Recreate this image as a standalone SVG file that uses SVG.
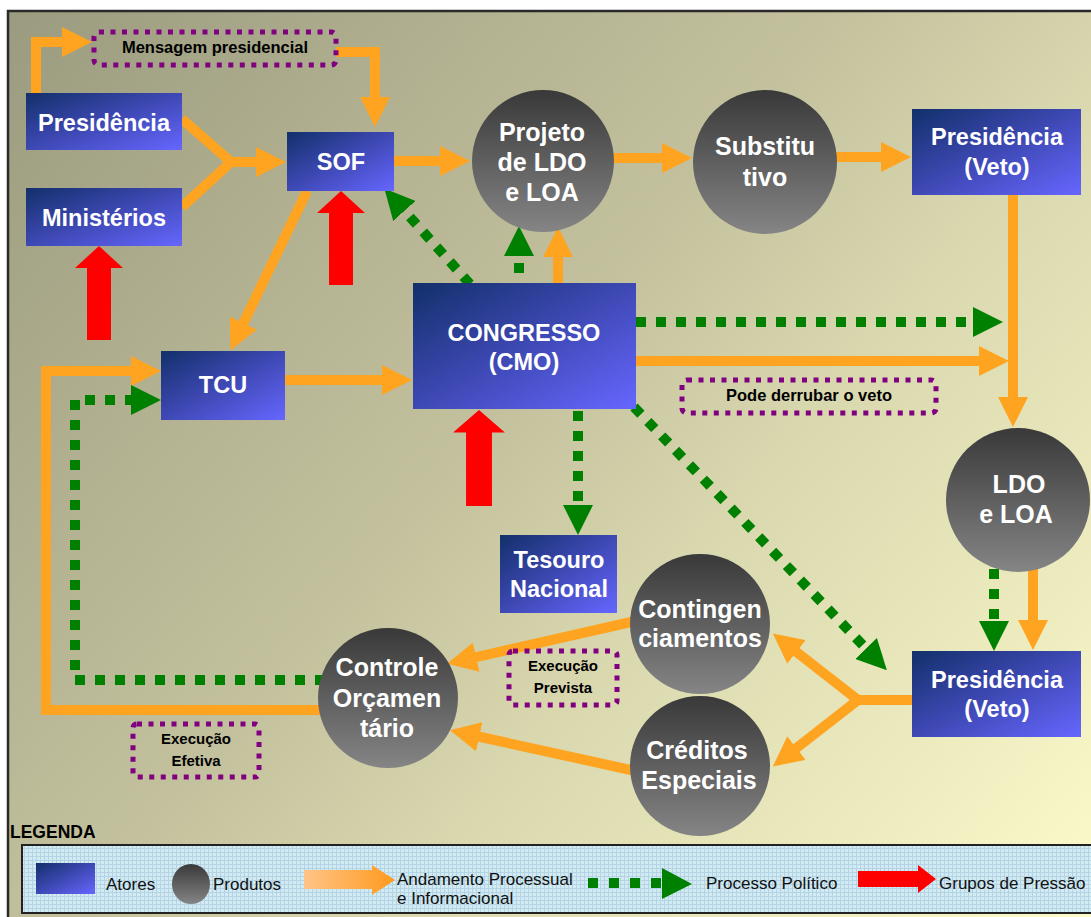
<svg xmlns="http://www.w3.org/2000/svg" width="1091" height="917" viewBox="0 0 1091 917">
<defs>
<linearGradient id="bg" gradientUnits="userSpaceOnUse" x1="0" y1="0" x2="1091" y2="917">
<stop offset="0" stop-color="#9a9a7f"/>
<stop offset="0.45" stop-color="#c3c19d"/>
<stop offset="0.62" stop-color="#d9d7ae"/>
<stop offset="1" stop-color="#fcfbcb"/>
</linearGradient>
<linearGradient id="blue" x1="0" y1="0" x2="1" y2="1">
<stop offset="0" stop-color="#12306a"/>
<stop offset="0.45" stop-color="#3a46ad"/>
<stop offset="1" stop-color="#6666ff"/>
</linearGradient>
<linearGradient id="gray" x1="0" y1="0" x2="0" y2="1">
<stop offset="0" stop-color="#393939"/>
<stop offset="1" stop-color="#858585"/>
</linearGradient>
<linearGradient id="legOrange" x1="0" y1="0" x2="1" y2="0">
<stop offset="0" stop-color="#ffc488"/>
<stop offset="1" stop-color="#ff9a1c"/>
</linearGradient>
<pattern id="grid" width="4" height="4" patternUnits="userSpaceOnUse">
<rect width="4" height="4" fill="#d2eaf2"/>
<path d="M0,0.5H4M0.5,0V4" stroke="#b4d4e6" stroke-width="1"/>
</pattern>
<marker id="ah-o" markerUnits="userSpaceOnUse" markerWidth="30" markerHeight="30" viewBox="0 0 30 30" refX="1" refY="15" orient="auto">
<path d="M0,0L30,15L0,30Z" fill="#ffa420"/>
</marker>
<marker id="ah-g" markerUnits="userSpaceOnUse" markerWidth="30" markerHeight="30" viewBox="0 0 30 30" refX="0" refY="15" orient="auto">
<path d="M0,0L30,15L0,30Z" fill="#008000"/>
</marker>
<path id="red-arrow" d="M0,0L24,22L12,22L12,94L-12,94L-12,22L-24,22Z" fill="#ff0000"/>
<style>
.o{fill:none;stroke:#ffa420;stroke-width:10;marker-end:url(#ah-o)}
.on{fill:none;stroke:#ffa420;stroke-width:10}
.g{fill:none;stroke:#008000;stroke-width:10;stroke-dasharray:10 10;marker-end:url(#ah-g)}
.actor{fill:url(#blue)}
.prod{fill:url(#gray)}
.t{font-family:"Liberation Sans",Arial,sans-serif;font-weight:bold;fill:#ffffff;text-anchor:middle}
.tb{font-size:23.5px}
.tc{font-size:25px}
.lab{fill:none;stroke:#800080;stroke-width:5;stroke-dasharray:5 6.5}
.lt{font-family:"Liberation Sans",Arial,sans-serif;font-weight:bold;fill:#000;text-anchor:middle}
.leg{font-family:"Liberation Sans",Arial,sans-serif;font-size:17px;fill:#111}
</style>
</defs>

<rect x="0" y="0" width="1091" height="917" fill="#ffffff"/>
<rect x="8" y="11" width="1096" height="920" fill="url(#bg)" stroke="#2a2a2a" stroke-width="2.5"/>

<g id="connectors">
<path class="o" d="M36,93V42H63"/>
<path class="o" d="M336,52H375V98"/>
<path class="on" d="M182,119L231,162L182,207"/>
<path class="o" d="M226,162H257"/>
<path class="o" d="M307,191L243,324"/>
<path class="o" d="M394,161H441"/>
<path class="o" d="M612,158H663"/>
<path class="o" d="M836,157H882"/>
<path class="o" d="M558,290V256"/>
<path class="o" d="M285,380H383"/>
<path class="o" d="M630,361H980"/>
<path class="o" d="M1013,195V398"/>
<path class="o" d="M1033,560V621"/>
<path class="on" d="M915,700H858"/>
<path class="o" d="M858,700L795.7,651.4"/>
<path class="o" d="M858,700L795.7,748.6"/>
<path class="o" d="M640,620L475.3,657.3"/>
<path class="o" d="M640,772L478.3,736.5"/>
<path class="o" d="M325,710H46V371H132"/>
<path class="g" d="M470,284L404.4,210.9"/>
<path class="g" d="M519,283V256" stroke-dashoffset="10"/>
<path class="g" d="M636,322H973"/>
<path class="g" d="M578,411V505"/>
<path class="g" d="M634,407L866.1,648.5"/>
<path class="g" d="M994,569V621"/>
<path class="g" d="M325,680H75V400H131"/>
<use href="#red-arrow" x="99" y="246"/>
<use href="#red-arrow" x="341" y="191"/>
<use href="#red-arrow" transform="translate(479,410) scale(1.08,1.02)"/>
</g>

<g id="label-mensagem">
<rect class="lab" x="94" y="32" width="242" height="33" rx="5"/>
<text class="lt" x="215" y="53" font-size="16.5">Mensagem presidencial</text>
</g>
<g id="label-veto">
<rect class="lab" x="682" y="380" width="254" height="33" rx="5"/>
<text class="lt" x="809" y="401" font-size="16.5">Pode derrubar o veto</text>
</g>
<g id="label-prevista">
<rect class="lab" x="509" y="651" width="108" height="54" rx="4"/>
<text class="lt" x="563" y="671" font-size="15">Execução</text>
<text class="lt" x="563" y="693" font-size="15">Prevista</text>
</g>
<g id="label-efetiva">
<rect class="lab" x="133" y="724" width="126" height="53" rx="4"/>
<text class="lt" x="196" y="744" font-size="15">Execução</text>
<text class="lt" x="196" y="766" font-size="15">Efetiva</text>
</g>

<g id="node-presidencia">
<rect class="actor" x="26" y="93" width="156" height="57"/>
<text class="t tb" x="104" y="131">Presidência</text>
</g>
<g id="node-ministerios">
<rect class="actor" x="26" y="188" width="156" height="58"/>
<text class="t tb" x="104" y="226">Ministérios</text>
</g>
<g id="node-sof">
<rect class="actor" x="287" y="132" width="107" height="59"/>
<text class="t tb" x="341" y="170">SOF</text>
</g>
<g id="node-tcu">
<rect class="actor" x="161" y="351" width="124" height="69"/>
<text class="t tb" x="223" y="393">TCU</text>
</g>
<g id="node-congresso">
<rect class="actor" x="413" y="283" width="223" height="126"/>
<text class="t tb" x="524" y="341">CONGRESSO</text>
<text class="t tb" x="524" y="370">(CMO)</text>
</g>
<g id="node-tesouro">
<rect class="actor" x="500" y="535" width="117" height="78"/>
<text class="t tb" x="559" y="568">Tesouro</text>
<text class="t tb" x="559" y="597">Nacional</text>
</g>
<g id="node-presidencia-veto-1">
<rect class="actor" x="912" y="109" width="169" height="86"/>
<text class="t tb" x="997" y="145">Presidência</text>
<text class="t tb" x="997" y="175">(Veto)</text>
</g>
<g id="node-presidencia-veto-2">
<rect class="actor" x="912" y="651" width="169" height="86"/>
<text class="t tb" x="997" y="688">Presidência</text>
<text class="t tb" x="997" y="717">(Veto)</text>
</g>

<g id="node-projeto">
<circle class="prod" cx="543" cy="161" r="71"/>
<text class="t tc" x="542" y="141">Projeto</text>
<text class="t tc" x="542" y="171">de LDO</text>
<text class="t tc" x="542" y="201">e LOA</text>
</g>
<g id="node-substitutivo">
<circle class="prod" cx="765" cy="162" r="72"/>
<text class="t tc" x="765" y="155">Substitu</text>
<text class="t tc" x="765" y="186">tivo</text>
</g>
<g id="node-ldo-loa">
<circle class="prod" cx="1018" cy="500" r="72"/>
<text class="t tc" x="1019" y="493">LDO</text>
<text class="t tc" x="1016" y="523">e LOA</text>
</g>
<g id="node-contingenciamentos">
<circle class="prod" cx="700" cy="624" r="70"/>
<text class="t tc" x="700" y="618">Contingen</text>
<text class="t tc" x="700" y="647">ciamentos</text>
</g>
<g id="node-creditos">
<circle class="prod" cx="700" cy="766" r="70"/>
<text class="t tc" x="697" y="759">Créditos</text>
<text class="t tc" x="699" y="789">Especiais</text>
</g>
<g id="node-controle">
<circle class="prod" cx="388" cy="698" r="70"/>
<text class="t tc" x="387" y="676">Controle</text>
<text class="t tc" x="387" y="707">Orçamen</text>
<text class="t tc" x="387" y="737">tário</text>
</g>

<g id="legend">
<text x="10" y="838" font-family="Liberation Sans, Arial, sans-serif" font-weight="bold" font-size="17.5" fill="#000">LEGENDA</text>
<rect x="22" y="845" width="1082" height="68" fill="url(#grid)" stroke="#222" stroke-width="2"/>
<rect x="36" y="863" width="59" height="31" fill="url(#blue)"/>
<text class="leg" x="106" y="890">Atores</text>
<ellipse cx="191" cy="884" rx="19" ry="20" fill="url(#gray)"/>
<text class="leg" x="213" y="890">Produtos</text>
<path d="M304,870H372V865L395,880L372,895V889H304Z" fill="url(#legOrange)"/>
<text class="leg" x="397" y="885">Andamento Processual</text>
<text class="leg" x="397" y="904">e Informacional</text>
<rect x="588" y="878" width="10" height="10" fill="#008000"/>
<rect x="609" y="878" width="10" height="10" fill="#008000"/>
<rect x="630" y="878" width="10" height="10" fill="#008000"/>
<rect x="651" y="878" width="10" height="10" fill="#008000"/>
<path d="M662,868L692,884L662,899Z" fill="#008000"/>
<text class="leg" x="706" y="889">Processo Político</text>
<path d="M858,871H918V865L936,879L918,893V887H858Z" fill="#ff0000"/>
<text class="leg" x="939" y="889">Grupos de Pressão</text>
</g>
</svg>
